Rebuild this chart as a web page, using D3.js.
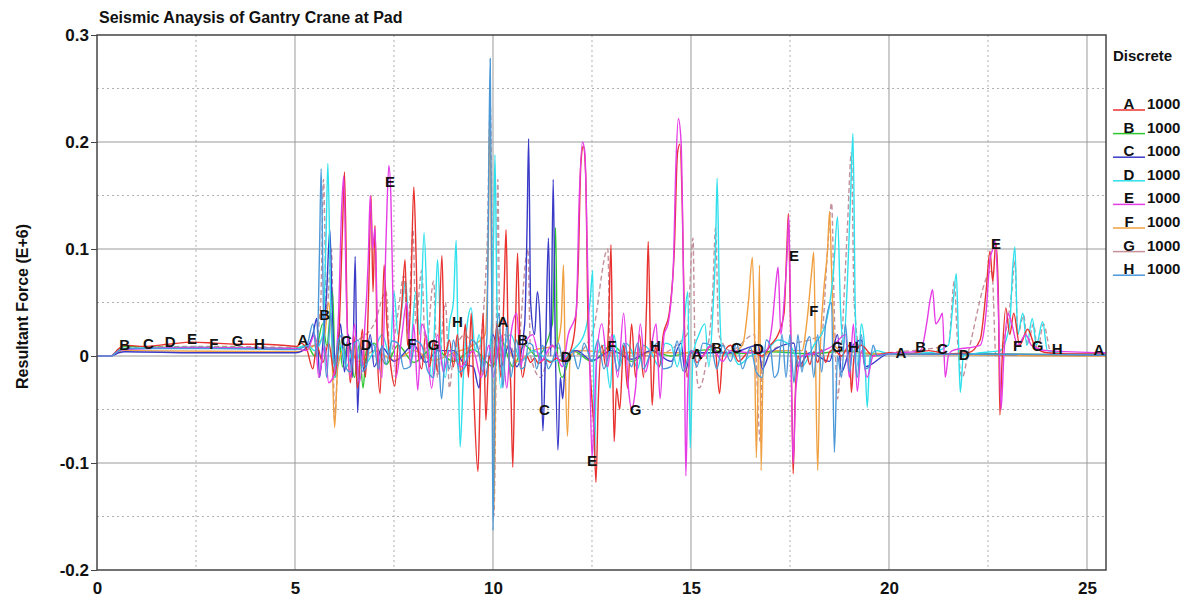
<!DOCTYPE html>
<html>
<head>
<meta charset="utf-8">
<script src="https://cdn.jsdelivr.net/npm/d3@7"></script>
<style>
  body { margin: 0; background: #fff; }
  svg text { font-family: "Liberation Sans", Arial, sans-serif; }
</style>
</head>
<body>
<div id="chart"></div>
<script>
// series names / legend
const seriesNames = ['A', 'B', 'C', 'D', 'E', 'F', 'G', 'H'];
const legendValues = ['1000', '1000', '1000', '1000', '1000', '1000', '1000', '1000'];
const xTicks = [0, 5, 10, 15, 20, 25];
const yTicks = [-0.2, -0.1, 0, 0.1, 0.2, 0.3];

// [time, force]
const seriesA = [[0,0],[0.35,0],[0.55,0.007],[0.7,0.01],[1.2,0.009],[1.8,0.011],[2.4,0.013],[3.0,0.012],[3.6,0.011],[4.2,0.011],[4.7,0.01],[5.05,0.009],[5.15,0.012],[5.3,0.006],[5.45,-0.012],[5.55,0.01],[5.7,-0.006],[5.85,0.012],[6.0,-0.018],[6.12,0.03],[6.2,0.12],[6.25,0.172],[6.32,0.03],[6.4,-0.025],[6.48,0.02],[6.58,-0.03],[6.7,0.025],[6.78,-0.02],[6.86,0.06],[6.92,0.15],[6.97,0.06],[7.02,0.122],[7.08,0.0],[7.15,-0.035],[7.25,0.085],[7.32,0.03],[7.42,-0.01],[7.52,-0.028],[7.6,0.01],[7.7,0.05],[7.78,0.09],[7.84,0.01],[7.92,0.05],[8.0,0.158],[8.06,0.09],[8.12,0.0],[8.2,-0.012],[8.3,0.02],[8.4,-0.01],[8.5,0.015],[8.6,-0.015],[8.71,0.094],[8.78,0.0],[8.9,0.015],[9.0,-0.01],[9.1,0.02],[9.2,-0.02],[9.3,0.03],[9.38,-0.02],[9.45,0.04],[9.52,-0.04],[9.62,-0.108],[9.68,-0.03],[9.75,0.04],[9.82,-0.06],[9.9,0.0],[10.0,-0.01],[10.1,0.03],[10.2,-0.02],[10.28,0.06],[10.33,0.118],[10.38,0.02],[10.45,-0.03],[10.5,-0.104],[10.56,0.01],[10.62,0.096],[10.68,0.01],[10.75,-0.02],[10.85,0.0],[10.95,-0.006],[11.05,-0.002],[11.15,-0.007],[11.3,-0.003],[11.45,-0.006],[11.6,-0.002],[11.75,-0.005],[11.9,0.0],[12.05,0.02],[12.15,0.08],[12.22,0.18],[12.28,0.196],[12.34,0.17],[12.4,0.03],[12.48,-0.03],[12.55,-0.07],[12.6,-0.118],[12.66,-0.04],[12.75,0.01],[12.85,-0.01],[12.92,0.03],[12.98,0.104],[13.02,0.0],[13.06,-0.08],[13.12,-0.03],[13.2,-0.05],[13.3,0.01],[13.4,-0.03],[13.5,0.03],[13.6,-0.02],[13.7,0.02],[13.8,-0.02],[13.88,0.05],[13.92,0.107],[13.98,0.0],[14.02,-0.046],[14.1,0.01],[14.2,-0.01],[14.3,0.02],[14.45,0.04],[14.58,0.1],[14.66,0.19],[14.72,0.198],[14.78,0.14],[14.84,0.02],[14.9,-0.02],[15.0,0.005],[15.15,-0.006],[15.3,0.0],[15.45,0.008],[15.6,0.01],[15.72,-0.035],[15.8,0.0],[16.0,0.01],[16.2,-0.005],[16.5,0.005],[16.8,0.0],[17.0,0.01],[17.2,0.02],[17.35,0.04],[17.42,0.1],[17.46,0.133],[17.5,0.06],[17.55,-0.05],[17.58,-0.11],[17.63,-0.04],[17.7,0.0],[17.8,-0.01],[17.9,0.005],[18.0,-0.008],[18.1,0.004],[18.2,-0.006],[18.3,0.006],[18.4,-0.006],[18.5,0.004],[18.6,0.006],[18.8,0.0],[19.0,0.01],[19.05,-0.034],[19.12,0.0],[19.3,0.01],[19.6,0.0],[20.0,0.003],[20.5,0.002],[21.0,0.005],[21.5,0.002],[22.0,0.003],[22.3,0.015],[22.45,0.06],[22.55,0.098],[22.62,0.07],[22.7,0.106],[22.76,0.06],[22.8,-0.055],[22.86,0.0],[22.95,0.045],[23.05,0.02],[23.15,0.04],[23.3,0.01],[23.5,0.025],[23.7,0.008],[24.0,0.003],[24.5,0.002],[25.48,0.002]];

const seriesB = [[0,0],[0.35,0],[0.55,0.006],[0.7,0.009],[2.0,0.008],[3.5,0.008],[5.0,0.007],[5.3,0.01],[5.5,0.0],[5.7,0.03],[5.8,0.01],[5.95,0.06],[6.02,-0.02],[6.1,0.02],[6.2,-0.01],[6.35,0.015],[6.5,-0.02],[6.62,0.01],[6.72,-0.03],[6.8,0.005],[7.0,0.012],[7.3,-0.008],[7.6,0.01],[8.0,-0.006],[8.5,0.008],[9.0,-0.005],[9.5,0.006],[10.0,-0.01],[10.2,0.015],[10.5,-0.01],[10.8,0.01],[11.1,0.0],[11.5,0.03],[11.58,0.12],[11.63,0.0],[11.75,-0.02],[12.0,0.005],[12.5,-0.005],[13.0,0.01],[13.5,-0.005],[14.0,0.005],[14.5,0.0],[15.0,0.004],[15.5,0.006],[16.0,0.002],[17.0,0.004],[18.0,0.002],[19.0,0.005],[19.5,0.002],[20.0,0.002],[22.0,0.002],[25.48,0.001]];

const seriesC = [[0,0],[0.35,0],[0.55,0.003],[0.7,0.004],[2.5,0.003],[5.0,0.003],[5.3,0.008],[5.45,0.02],[5.55,0.035],[5.62,-0.02],[5.7,0.01],[5.8,0.06],[5.88,0.118],[5.95,0.03],[6.05,-0.01],[6.15,0.03],[6.25,-0.015],[6.35,0.02],[6.45,-0.02],[6.52,0.093],[6.58,-0.053],[6.65,0.01],[6.75,-0.015],[6.9,0.02],[7.0,-0.01],[7.2,0.008],[7.5,-0.005],[8.0,0.01],[8.3,-0.006],[8.6,0.005],[9.0,0.005],[9.3,-0.008],[9.5,-0.01],[9.65,-0.03],[9.72,0.0],[9.8,-0.02],[10.0,0.02],[10.2,-0.01],[10.4,0.01],[10.6,-0.01],[10.8,0.03],[10.86,0.12],[10.9,0.203],[10.95,0.05],[11.05,0.02],[11.12,0.06],[11.2,0.02],[11.26,-0.07],[11.33,0.01],[11.4,0.11],[11.46,0.0],[11.52,0.165],[11.57,0.02],[11.64,-0.088],[11.7,-0.02],[11.76,-0.04],[11.82,-0.01],[11.9,0.0],[12.1,0.005],[12.5,-0.004],[13.0,0.005],[13.5,-0.003],[14.0,0.005],[14.5,-0.005],[14.75,0.012],[14.85,-0.015],[15.0,0.003],[16.0,0.003],[16.7,0.01],[16.8,-0.012],[17.0,0.003],[17.6,0.012],[17.7,-0.01],[18.0,0.003],[18.5,-0.005],[18.7,0.02],[18.8,-0.015],[19.0,0.005],[19.3,0.015],[19.4,-0.01],[20.0,0.002],[25.48,0.001]];

const seriesD = [[0,0],[0.35,0],[0.55,0.006],[0.7,0.007],[2.5,0.008],[5.0,0.007],[5.3,0.01],[5.5,0.005],[5.7,0.02],[5.79,0.12],[5.83,0.18],[5.9,0.05],[6.0,-0.02],[6.15,0.01],[6.3,-0.01],[6.5,0.01],[6.7,-0.01],[7.0,0.005],[7.2,0.02],[7.4,0.0],[7.5,0.06],[7.6,0.02],[7.8,0.07],[7.9,0.0],[8.05,0.06],[8.15,0.02],[8.26,0.115],[8.35,0.03],[8.45,-0.02],[8.55,0.05],[8.6,0.09],[8.7,0.0],[8.8,-0.02],[8.9,0.03],[9.0,0.05],[9.07,0.108],[9.12,0.0],[9.17,-0.085],[9.25,-0.02],[9.35,0.03],[9.45,0.045],[9.55,0.005],[9.65,0.02],[9.8,-0.02],[9.95,0.02],[10.02,0.12],[10.05,0.188],[10.1,0.05],[10.2,-0.03],[10.3,0.01],[10.45,0.02],[10.7,-0.005],[11.0,0.005],[11.5,-0.005],[12.0,0.005],[12.3,0.02],[12.45,0.05],[12.52,0.08],[12.56,-0.1],[12.62,0.0],[12.8,0.01],[12.96,-0.03],[13.05,0.02],[13.2,-0.01],[13.35,0.012],[13.5,0.005],[13.65,-0.012],[13.8,0.01],[14.0,0.003],[14.2,-0.01],[14.35,0.012],[14.5,0.01],[14.65,-0.01],[14.8,0.02],[14.92,0.06],[14.98,-0.086],[15.05,0.0],[15.2,0.02],[15.35,0.03],[15.45,-0.01],[15.55,0.04],[15.62,0.1],[15.66,0.166],[15.72,0.05],[15.8,0.0],[16.0,0.005],[16.2,-0.008],[16.5,0.0],[16.9,0.005],[17.2,0.015],[17.5,0.01],[17.8,-0.01],[18.1,0.01],[18.4,0.03],[18.6,0.08],[18.7,0.13],[18.78,0.04],[18.85,0.01],[18.95,0.07],[19.03,0.15],[19.09,0.208],[19.15,0.04],[19.22,-0.01],[19.3,0.03],[19.38,0.01],[19.45,-0.048],[19.52,0.0],[19.7,0.005],[20.0,0.002],[21.0,0.003],[21.5,0.01],[21.62,0.05],[21.7,0.077],[21.75,0.02],[21.8,-0.034],[21.88,0.0],[22.3,0.003],[22.8,0.005],[23.05,0.03],[23.12,0.08],[23.18,0.102],[23.25,0.02],[23.38,0.04],[23.48,0.01],[23.62,0.035],[23.72,0.01],[23.88,0.032],[24.0,0.005],[24.5,0.002],[25.48,0.002]];

const seriesE = [[0,0],[0.35,0],[0.55,0.005],[0.7,0.006],[2.4,0.008],[5.0,0.007],[5.3,0.005],[5.5,0.02],[5.6,-0.02],[5.75,0.01],[5.85,-0.025],[6.0,-0.015],[6.1,0.04],[6.18,0.14],[6.23,0.168],[6.3,0.05],[6.4,-0.02],[6.5,0.03],[6.62,-0.025],[6.75,0.02],[6.85,0.09],[6.9,0.15],[6.96,0.1],[7.02,0.12],[7.1,0.0],[7.2,-0.02],[7.3,0.11],[7.37,0.178],[7.42,0.15],[7.47,0.06],[7.55,-0.02],[7.7,0.02],[7.82,0.05],[7.92,-0.01],[8.0,0.03],[8.1,-0.032],[8.2,0.03],[8.3,0.02],[8.45,-0.03],[8.6,0.02],[8.75,-0.015],[8.9,0.005],[9.2,-0.01],[9.5,0.005],[9.7,-0.02],[9.9,0.01],[10.0,-0.02],[10.2,0.02],[10.35,-0.03],[10.45,0.02],[10.6,0.04],[10.7,-0.01],[10.8,0.01],[11.0,0.02],[11.2,-0.005],[11.5,0.01],[11.75,-0.01],[11.9,0.02],[12.1,0.04],[12.18,0.15],[12.26,0.2],[12.32,0.19],[12.38,0.1],[12.44,0.0],[12.5,-0.095],[12.55,-0.06],[12.62,0.0],[12.75,0.03],[12.9,-0.01],[13.0,0.02],[13.15,-0.02],[13.3,0.04],[13.42,-0.03],[13.5,-0.05],[13.6,-0.03],[13.72,0.03],[13.85,-0.015],[14.0,0.01],[14.12,0.03],[14.22,-0.04],[14.32,0.02],[14.42,0.03],[14.55,0.08],[14.62,0.18],[14.68,0.222],[14.75,0.2],[14.8,0.1],[14.84,-0.02],[14.87,-0.112],[14.92,-0.03],[15.0,0.005],[15.3,0.0],[15.5,0.01],[15.8,-0.005],[16.0,0.005],[16.5,0.003],[16.9,0.005],[17.05,0.03],[17.15,0.07],[17.2,0.083],[17.27,0.02],[17.35,0.05],[17.42,0.09],[17.47,0.13],[17.52,0.02],[17.58,-0.1],[17.65,-0.03],[17.8,0.0],[18.2,0.003],[18.6,0.01],[18.9,0.02],[19.0,-0.02],[19.1,0.03],[19.2,-0.033],[19.3,0.005],[19.45,-0.02],[19.6,0.0],[20.0,0.002],[20.8,0.005],[20.95,0.03],[21.05,0.055],[21.1,0.062],[21.18,0.03],[21.28,0.035],[21.35,0.04],[21.42,-0.02],[21.5,0.0],[21.6,0.005],[22.3,0.01],[22.45,0.04],[22.55,0.09],[22.62,0.1],[22.68,0.108],[22.74,0.07],[22.78,0.02],[22.83,-0.05],[22.9,0.0],[23.0,0.04],[23.1,0.03],[23.25,0.01],[23.45,0.02],[23.6,0.01],[24.0,0.005],[25.48,0.003]];

const seriesF = [[0,0],[0.35,0],[0.55,0.004],[0.7,0.005],[5.0,0.004],[5.5,0.01],[5.75,0.02],[5.85,0.05],[5.92,0.02],[6.0,-0.067],[6.08,-0.01],[6.3,0.01],[6.6,-0.005],[7.0,0.005],[7.5,-0.004],[8.0,0.005],[8.5,-0.004],[9.0,0.003],[9.5,0.01],[9.8,0.02],[9.88,0.1],[9.92,0.228],[9.97,0.05],[10.02,-0.144],[10.08,0.0],[10.3,0.01],[10.6,-0.005],[11.0,0.005],[11.6,0.01],[11.72,0.03],[11.78,0.085],[11.82,0.0],[11.88,-0.075],[11.95,0.0],[12.2,0.005],[13.0,0.003],[14.0,0.003],[15.0,0.003],[16.0,0.003],[16.3,0.01],[16.45,0.05],[16.55,0.092],[16.6,0.03],[16.65,-0.095],[16.7,0.0],[16.73,0.085],[16.77,-0.107],[16.83,0.0],[17.2,0.005],[17.8,0.005],[17.95,0.04],[18.05,0.08],[18.1,0.097],[18.14,0.01],[18.2,-0.107],[18.26,0.0],[18.35,0.06],[18.45,0.1],[18.5,0.135],[18.55,0.08],[18.62,0.01],[18.8,0.005],[19.2,0.003],[20.0,0.002],[25.48,0.0]];

const seriesG = [[0,0],[0.35,0],[0.55,0.006],[0.7,0.008],[3.0,0.009],[5.0,0.008],[5.5,0.01],[5.65,0.05],[5.72,0.165],[5.8,0.04],[5.92,0.1],[6.0,-0.06],[6.1,0.0],[6.4,0.01],[7.0,0.03],[7.3,0.06],[7.4,0.0],[7.6,0.04],[7.75,0.075],[7.85,0.02],[7.98,0.118],[8.05,0.03],[8.2,0.08],[8.3,0.0],[8.5,0.07],[8.6,-0.02],[8.8,0.05],[8.9,-0.03],[9.0,0.0],[9.3,0.02],[9.6,0.0],[9.85,0.1],[9.93,0.235],[9.98,0.08],[10.02,-0.15],[10.08,0.0],[10.12,0.165],[10.18,0.0],[10.3,0.02],[10.6,0.0],[10.88,0.1],[10.95,0.0],[11.2,-0.02],[11.5,0.01],[12.0,0.0],[12.5,0.02],[12.9,0.1],[12.96,0.0],[13.1,0.005],[14.0,0.0],[14.9,0.02],[15.05,0.11],[15.1,0.01],[15.2,-0.03],[15.4,0.0],[15.55,0.06],[15.62,0.12],[15.7,0.02],[16.0,0.005],[16.6,0.02],[16.75,-0.08],[16.8,0.0],[17.0,0.005],[18.3,0.02],[18.45,0.1],[18.55,0.143],[18.62,0.04],[18.7,-0.04],[18.8,0.01],[18.95,0.12],[19.05,0.19],[19.12,0.05],[19.3,0.0],[20.0,0.003],[21.5,0.01],[21.65,0.07],[21.72,0.02],[21.85,-0.02],[22.0,0.003],[22.6,0.08],[22.7,0.0],[23.1,0.06],[23.18,0.09],[23.25,0.02],[23.4,0.038],[23.5,0.01],[23.65,0.03],[23.75,0.005],[23.9,0.03],[24.1,0.002],[25.48,0.001]];

const seriesH = [[0,0],[0.35,0],[0.55,0.005],[0.7,0.007],[3.0,0.007],[5.0,0.006],[5.3,0.01],[5.45,0.03],[5.55,0.0],[5.62,0.1],[5.66,0.175],[5.72,0.04],[5.8,-0.02],[5.9,0.04],[6.0,-0.01],[6.1,0.015],[6.2,0.02],[6.3,-0.012],[6.4,-0.015],[6.5,0.012],[6.6,0.015],[6.7,-0.014],[6.8,-0.01],[6.9,0.012],[7.0,0.01],[7.1,-0.012],[7.2,0.01],[7.3,-0.008],[7.45,0.014],[7.6,0.012],[7.75,-0.012],[7.9,-0.01],[8.05,0.014],[8.2,0.01],[8.35,-0.014],[8.5,-0.02],[8.6,0.01],[8.7,-0.04],[8.8,0.0],[8.9,-0.012],[9.0,0.015],[9.15,-0.015],[9.3,-0.01],[9.45,0.015],[9.6,0.01],[9.75,-0.015],[9.85,0.02],[9.9,0.2],[9.93,0.278],[9.97,0.05],[10.0,-0.163],[10.05,-0.02],[10.15,0.04],[10.25,-0.03],[10.35,0.03],[10.45,-0.02],[10.6,0.015],[10.7,-0.012],[10.8,-0.01],[10.9,0.012],[11.0,0.01],[11.1,-0.012],[11.25,0.01],[11.4,-0.012],[11.5,-0.005],[11.65,0.012],[11.8,-0.01],[12.0,0.005],[12.15,-0.012],[12.3,0.012],[12.5,-0.005],[12.65,0.015],[12.8,-0.012],[13.0,0.008],[13.15,-0.014],[13.3,0.012],[13.5,-0.01],[13.65,0.012],[13.8,-0.012],[14.0,0.005],[14.15,0.012],[14.3,-0.012],[14.5,-0.01],[14.65,0.014],[14.8,-0.014],[15.0,0.005],[15.15,-0.01],[15.3,0.012],[15.5,0.01],[15.65,-0.012],[15.8,0.01],[16.0,-0.005],[16.15,0.012],[16.3,-0.012],[16.5,0.008],[16.65,-0.015],[16.8,-0.02],[16.9,0.015],[17.0,0.01],[17.1,-0.02],[17.2,-0.015],[17.3,0.02],[17.4,-0.02],[17.5,0.02],[17.6,-0.025],[17.7,0.02],[17.8,-0.015],[17.9,0.01],[18.0,0.018],[18.1,-0.02],[18.2,0.02],[18.3,-0.015],[18.4,0.03],[18.55,0.05],[18.62,-0.09],[18.7,0.0],[18.8,-0.02],[18.9,0.03],[19.0,-0.015],[19.1,0.01],[19.2,-0.02],[19.3,0.02],[19.4,-0.012],[19.5,-0.01],[19.6,0.01],[19.7,0.0],[20.0,0.002],[25.48,0.001]];

// letter markers on each curve [time, force]
const labelsA = [[5.2,0.015],[10.25,0.032],[15.15,0.002],[20.3,0.003],[25.3,0.006]];
const labelsB = [[0.7,0.011],[5.75,0.039],[10.75,0.015],[15.65,0.008],[20.8,0.009]];
const labelsC = [[1.3,0.012],[6.3,0.014],[11.3,-0.05],[16.15,0.008],[21.35,0.007]];
const labelsD = [[1.85,0.013],[6.8,0.011],[11.85,-0.001],[16.7,0.007],[21.9,0.001]];
const labelsE = [[2.4,0.016],[7.4,0.163],[12.5,-0.098],[17.6,0.094],[22.7,0.105]];
const labelsF = [[2.95,0.012],[7.95,0.012],[13.0,0.01],[18.1,0.042],[23.25,0.01]];
const labelsG = [[3.55,0.014],[8.5,0.011],[13.6,-0.05],[18.7,0.009],[23.75,0.01]];
const labelsH = [[4.1,0.012],[9.1,0.032],[14.1,0.01],[19.1,0.009],[24.25,0.007]];

const colors = {
  A: '#e8322f', B: '#2ec82e', C: '#3a3ac8', D: '#2ee0ec',
  E: '#e63ce6', F: '#f0a040', G: '#c4909c', H: '#4a98d8'
};

const series = [
  { name: 'G', data: seriesG, labels: labelsG, dash: '5,3' },
  { name: 'B', data: seriesB, labels: labelsB },
  { name: 'F', data: seriesF, labels: labelsF },
  { name: 'C', data: seriesC, labels: labelsC },
  { name: 'D', data: seriesD, labels: labelsD },
  { name: 'A', data: seriesA, labels: labelsA },
  { name: 'E', data: seriesE, labels: labelsE },
  { name: 'H', data: seriesH, labels: labelsH }
];

const width = 1200, height = 605;
const plot = { left: 97, right: 1106, top: 35, bottom: 570 };

const x = d3.scaleLinear().domain([0, 25.48]).range([plot.left, plot.right]);
const y = d3.scaleLinear().domain([-0.2, 0.3]).range([plot.bottom, plot.top]);

const svg = d3.select('#chart').append('svg')
  .attr('width', width)
  .attr('height', height);

svg.append('defs').append('clipPath').attr('id', 'clip')
  .append('rect')
  .attr('x', plot.left).attr('y', plot.top)
  .attr('width', plot.right - plot.left).attr('height', plot.bottom - plot.top);

// grid
const grid = svg.append('g');
const minorX = d3.range(2.5, 25.4, 5);
const minorY = d3.range(-0.15, 0.3, 0.1);

grid.selectAll('.vminor').data(minorX).enter().append('line')
  .attr('x1', d => x(d)).attr('x2', d => x(d))
  .attr('y1', plot.top).attr('y2', plot.bottom)
  .attr('stroke', '#b0b0b0').attr('stroke-dasharray', '2,3');
grid.selectAll('.hminor').data(minorY).enter().append('line')
  .attr('x1', plot.left).attr('x2', plot.right)
  .attr('y1', d => y(d)).attr('y2', d => y(d))
  .attr('stroke', '#b0b0b0').attr('stroke-dasharray', '2,3');
grid.selectAll('.vmajor').data(xTicks.slice(1)).enter().append('line')
  .attr('x1', d => x(d)).attr('x2', d => x(d))
  .attr('y1', plot.top).attr('y2', plot.bottom)
  .attr('stroke', '#9a9a9a');
grid.selectAll('.hmajor').data(yTicks.slice(1, -1)).enter().append('line')
  .attr('x1', plot.left).attr('x2', plot.right)
  .attr('y1', d => y(d)).attr('y2', d => y(d))
  .attr('stroke', '#9a9a9a');

// curves
const line = d3.line().x(d => x(d[0])).y(d => y(d[1])).curve(d3.curveMonotoneX);
const curves = svg.append('g').attr('clip-path', 'url(#clip)');
curves.selectAll('path').data(series).enter().append('path')
  .attr('d', d => line(d.data))
  .attr('fill', 'none')
  .attr('stroke', d => colors[d.name])
  .attr('stroke-width', 1.4)
  .attr('stroke-dasharray', d => d.dash || null)
  .attr('stroke-linejoin', 'round');

// letter markers
const marks = svg.append('g');
series.forEach(s => {
  marks.selectAll(null).data(s.labels).enter().append('text')
    .attr('x', d => x(d[0]))
    .attr('y', d => y(d[1]))
    .attr('dy', '0.36em')
    .attr('text-anchor', 'middle')
    .style('font-size', '15px')
    .style('font-weight', 'bold')
    .style('fill', '#111')
    .text(s.name);
});

// frame
svg.append('rect')
  .attr('x', plot.left).attr('y', plot.top)
  .attr('width', plot.right - plot.left).attr('height', plot.bottom - plot.top)
  .attr('fill', 'none').attr('stroke', '#444').attr('stroke-width', 1.5);

// axes
const yAxis = d3.axisLeft(y).tickValues(yTicks).tickSize(6)
  .tickFormat(d => d === 0 ? '0' : d.toFixed(1));
const gy = svg.append('g').attr('transform', `translate(${plot.left},0)`).call(yAxis);
gy.select('.domain').remove();
gy.selectAll('text').style('font-size', '17px').style('font-weight', 'bold').attr('fill', '#111').attr('x', -8);
gy.selectAll('line').attr('stroke', '#444');

const xAxis = d3.axisBottom(x).tickValues(xTicks).tickSize(0).tickPadding(12)
  .tickFormat(d3.format('d'));
const gx = svg.append('g').attr('transform', `translate(0,${plot.bottom})`).call(xAxis);
gx.select('.domain').remove();
gx.selectAll('text').style('font-size', '17px').style('font-weight', 'bold').attr('fill', '#111');

// title & axis label
svg.append('text')
  .attr('x', plot.left + 2).attr('y', 23)
  .style('font-size', '16px').style('font-weight', 'bold').style('fill', '#111')
  .text('Seismic Anaysis of Gantry Crane at Pad');

svg.append('text')
  .attr('transform', `translate(28,${(plot.top + plot.bottom) / 2 + 4}) rotate(-90)`)
  .attr('text-anchor', 'middle')
  .style('font-size', '16px').style('font-weight', 'bold').style('fill', '#111')
  .text('Resultant Force (E+6)');

// legend
const legend = svg.append('g');
legend.append('text')
  .attr('x', 1113).attr('y', 61)
  .style('font-size', '15px').style('font-weight', 'bold').style('fill', '#111')
  .text('Discrete');

const legendOrder = seriesNames.map((n, i) => ({ name: n, value: legendValues[i] }));
const entry = legend.selectAll('.entry').data(legendOrder).enter().append('g')
  .attr('transform', (d, i) => `translate(0,${103 + i * 23.6})`);
entry.append('line')
  .attr('x1', 1113).attr('x2', 1145).attr('y1', 7).attr('y2', 7)
  .attr('stroke', d => colors[d.name]).attr('stroke-width', 1.5);
entry.append('text')
  .attr('x', 1129).attr('y', 6).attr('text-anchor', 'middle')
  .style('font-size', '15px').style('font-weight', 'bold').style('fill', '#111')
  .text(d => d.name);
entry.append('text')
  .attr('x', 1147).attr('y', 6)
  .style('font-size', '15px').style('font-weight', 'bold').style('fill', '#111')
  .text(d => d.value);
</script>
</body>
</html>
